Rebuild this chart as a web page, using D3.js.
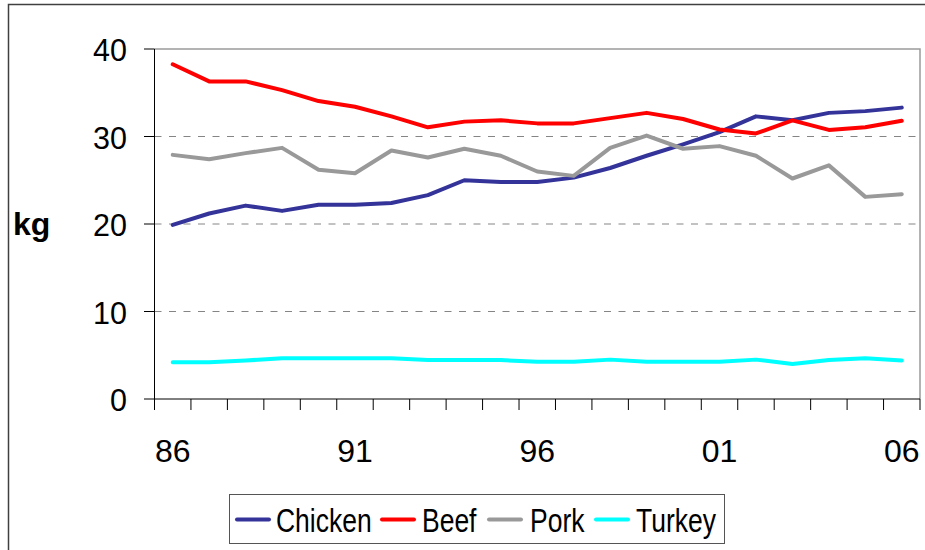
<!DOCTYPE html>
<html>
<head>
<meta charset="utf-8">
<script src="https://cdn.jsdelivr.net/npm/d3@7"></script>
<style>
  html, body { margin: 0; padding: 0; background: #fff; }
  svg { display: block; font-family: "Liberation Sans", Arial, sans-serif; }
</style>
</head>
<body>
<svg id="chart" width="925" height="550"></svg>
<script>
// Per-capita meat consumption, kg per person, 1986–2006
const years = ["86","87","88","89","90","91","92","93","94","95","96","97","98","99","00","01","02","03","04","05","06"];
const xTickLabels = ["86","91","96","01","06"];
const yTicks = [0, 10, 20, 30, 40];
const gridValues = [10, 20, 30];

const chicken = [19.9,21.2,22.1,21.5,22.2,22.2,22.4,23.3,25.0,24.8,24.8,25.3,26.4,27.8,29.1,30.5,32.3,31.85,32.7,32.9,33.3];
const beef    = [38.25,36.3,36.3,35.3,34.05,33.4,32.3,31.05,31.7,31.85,31.5,31.5,32.1,32.7,32.0,30.8,30.35,31.85,30.75,31.05,31.8];
const pork    = [27.9,27.4,28.1,28.7,26.2,25.8,28.4,27.6,28.6,27.8,26.0,25.5,28.7,30.1,28.6,28.9,27.8,25.2,26.7,23.1,23.4];
const turkey  = [4.2,4.2,4.4,4.65,4.65,4.65,4.65,4.45,4.45,4.45,4.25,4.25,4.5,4.25,4.25,4.25,4.5,4.0,4.45,4.65,4.4];

const seriesNames = ["Chicken","Beef","Pork","Turkey"];
const seriesValues = [chicken, beef, pork, turkey];
const seriesColors = ["#333399","#ff0000","#999999","#00ffff"];

const svg = d3.select("#chart");

// Outer chart frame
svg.append("rect")
  .attr("x", 8.5).attr("y", 4.5)
  .attr("width", 940).attr("height", 570)
  .attr("fill", "none").attr("stroke", "#404040").attr("stroke-width", 1.5);

const plot = { left: 154.5, right: 920, top: 49, bottom: 399 };

const x = d3.scaleBand().domain(years).range([plot.left, plot.right]).padding(0);
const y = d3.scaleLinear().domain([0, 40]).range([plot.bottom, plot.top]);
const cx = d => x(d) + x.bandwidth() / 2;

// Dashed gridlines
svg.append("g").selectAll("line").data(gridValues).join("line")
  .attr("x1", plot.left).attr("x2", plot.right)
  .attr("y1", d => y(d)).attr("y2", d => y(d))
  .attr("stroke", "#858585").attr("stroke-width", 1)
  .attr("stroke-dasharray", "7,7.5");

// Plot-area border (top and right)
svg.append("path")
  .attr("d", `M${plot.left},${y(40)}H${plot.right}V${y(0)}`)
  .attr("fill", "none").attr("stroke", "#9a9a9a").attr("stroke-width", 1.5);

// Y axis
const yAxis = svg.append("g");
yAxis.append("line")
  .attr("x1", plot.left).attr("x2", plot.left)
  .attr("y1", y(0)).attr("y2", y(40))
  .attr("stroke", "#000").attr("stroke-width", 1);
yAxis.selectAll("line.tick").data(yTicks).join("line").attr("class", "tick")
  .attr("x1", plot.left - 10.5).attr("x2", plot.left)
  .attr("y1", d => y(d)).attr("y2", d => y(d))
  .attr("stroke", "#000").attr("stroke-width", 1);
yAxis.selectAll("text").data(yTicks).join("text")
  .attr("x", 127).attr("y", d => y(d) + 12)
  .attr("text-anchor", "end")
  .attr("font-size", "30.5px").attr("fill", "#000")
  .text(d => d);

// X axis with tick marks at category boundaries
const xAxis = svg.append("g");
xAxis.append("line")
  .attr("x1", plot.left).attr("x2", plot.right)
  .attr("y1", y(0)).attr("y2", y(0))
  .attr("stroke", "#000").attr("stroke-width", 1);
const boundaries = years.map(d => x(d)).concat([x.range()[1]]);
xAxis.selectAll("line.tick").data(boundaries).join("line").attr("class", "tick")
  .attr("x1", d => d).attr("x2", d => d)
  .attr("y1", y(0)).attr("y2", y(0) + 11)
  .attr("stroke", "#000").attr("stroke-width", 1);
xAxis.selectAll("text").data(xTickLabels).join("text")
  .attr("x", d => cx(d)).attr("y", 462)
  .attr("text-anchor", "middle")
  .attr("font-size", "32px").attr("fill", "#000")
  .text(d => d);

// Y-axis title
svg.append("text")
  .attr("x", 13).attr("y", 235)
  .attr("font-size", "32px").attr("font-weight", "bold").attr("fill", "#000")
  .text("kg");

// Series lines
const line = d3.line()
  .x((d, i) => cx(years[i]))
  .y(d => y(d));

svg.append("g").selectAll("path").data(seriesValues).join("path")
  .attr("d", d => line(d))
  .attr("fill", "none")
  .attr("stroke", (d, i) => seriesColors[i])
  .attr("stroke-width", 4)
  .attr("stroke-linejoin", "round")
  .attr("stroke-linecap", "round");

// Legend
const legend = svg.append("g");
legend.append("rect")
  .attr("x", 229.5).attr("y", 494.5)
  .attr("width", 495).attr("height", 49)
  .attr("fill", "#fff").attr("stroke", "#555").attr("stroke-width", 1);

const legendLineX = [237, 382, 489, 596];
const legendTextX = [276, 422, 530, 636];
seriesNames.forEach((name, i) => {
  legend.append("line")
    .attr("x1", legendLineX[i]).attr("x2", legendLineX[i] + 32)
    .attr("y1", 519.5).attr("y2", 519.5)
    .attr("stroke", seriesColors[i]).attr("stroke-width", 4)
    .attr("stroke-linecap", "round");
  legend.append("text")
    .attr("transform", `translate(${legendTextX[i]},532.3) scale(1,1.27)`)
    .attr("font-size", "26.5px").attr("fill", "#000")
    .text(name);
});
</script>
</body>
</html>
